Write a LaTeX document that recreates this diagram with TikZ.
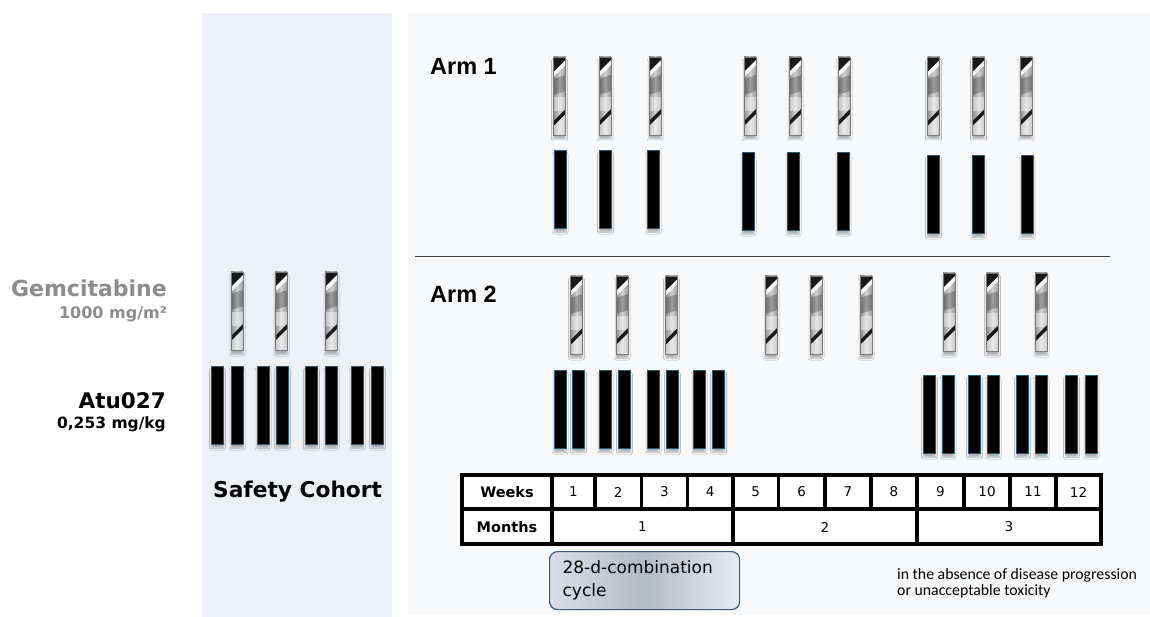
\documentclass[tikz,border=0pt]{standalone}
\usepackage{fontspec}
\setmainfont{DejaVu Sans}
\newfontfamily\armfont{Liberation Sans}
\newfontfamily\notefont{Carlito}
\usetikzlibrary{shadows.blur}

\definecolor{cohortbg}{HTML}{EDF1F5}
\definecolor{armbg}{HTML}{F8F9FB}
\definecolor{atuedge}{HTML}{2B5A70}
\definecolor{gemedge}{HTML}{7A7A7A}
\definecolor{labelgrey}{HTML}{8C8C8C}
\definecolor{cycleedge}{HTML}{3D5A78}
\definecolor{cycleside}{HTML}{DADDE4}
\definecolor{cyclemid}{HTML}{B6BAC6}
\definecolor{cycleright}{HTML}{E8EAEE}

\tikzset{
  barshadow/.style={blur shadow={shadow xshift=0pt, shadow yshift=-4pt,
      shadow opacity=30, shadow blur radius=2pt}},
  % striped metallic bar: Gemcitabine infusion
  gem/.pic={
    \path[barshadow] (-6,0) rectangle (6,78);
    \begin{scope}
      \clip (-6,0) rectangle (6,78);
      \shade[left color=gray!90, right color=gray!80, middle color=gray!35]
        (-6,0) rectangle (6,78);
      \fill[black,opacity=.25] (-6,22) -- (6,18) -- (6,34) -- (-6,38) -- cycle;
      \fill[white,opacity=.45] (-6,40) rectangle (6,54);
      \fill[black!90] (-6,0) -- (6,0) -- (6,3) -- (-6,15) -- cycle;
      \fill[white,opacity=.9] (6,3) -- (6,8) -- (-6,20) -- (-6,15) -- cycle;
      \fill[black!90] (6,52) -- (6,57) -- (-6,69) -- (-6,64) -- cycle;
      \fill[white,opacity=.5] (6,57) -- (6,78) -- (-6,78) -- (-6,69) -- cycle;
    \end{scope}
    \draw[gemedge, line width=0.9pt] (-6,0) rectangle (6,78);
  },
  % solid black bar: Atu027 infusion
  atu/.pic={
    \path[barshadow] (-6,0) rectangle (6,78);
    \filldraw[fill=black, draw=atuedge, line width=0.9pt] (-6,0) rectangle (6,78);
  },
  txt/.style={inner sep=0pt},
  drugname/.style={txt, anchor=base east, font=\bfseries\fontsize{22}{26}\selectfont},
  dose/.style={txt, anchor=base east, font=\bfseries\fontsize{15.5}{18}\selectfont},
  armlabel/.style={txt, anchor=base west, font=\armfont\bfseries\fontsize{23.5}{28}\selectfont},
  gridline/.style={line width=3.5pt, draw=black},
  headcell/.style={font=\bfseries\fontsize{14.5}{17}\selectfont},
  numcell/.style={font=\fontsize{13.5}{16}\selectfont},
  note/.style={txt, anchor=base west, font=\notefont\fontsize{15.8}{14}\selectfont},
}

\begin{document}
\begin{tikzpicture}[x=1pt,y=-1pt]
  \useasboundingbox (0,0) rectangle (1150,617);
  \fill[white] (0,0) rectangle (1150,617);

  % panels
  \fill[cohortbg] (202,13) rectangle (392,617);
  \fill[armbg] (408,13) rectangle (1150,615);

  % drug labels
  \node[drugname, text=labelgrey] (gemname) at (167,297) {Gemcitabine};
  \node[dose, text=labelgrey, font=\bfseries\fontsize{16}{18}\selectfont] (gemdose) at (167,318) {1000 mg/m²};
  \node[drugname, font=\bfseries\fontsize{21.5}{26}\selectfont] (atuname) at (166,408) {Atu027};
  \node[dose] (atudose) at (166,428) {0,253 mg/kg};

  % safety cohort
  \foreach \x [count=\i] in {237,281,331}
    \pic (sg\i) at (\x,272) {gem};
  \foreach \x [count=\i] in {217.5,237,263,282.5,311.5,331,357,377.5}
    \pic (sa\i) at (\x,366) {atu};
  \node[txt, anchor=base west, font=\bfseries\fontsize{21.7}{24}\selectfont] (cohort) at (213,497) {Safety Cohort};

  % arm 1
  \node[armlabel] (arm1) at (430,75) {Arm 1};
  \foreach \x [count=\i] in {559.5,605,655,750,795,844,933.5,978.5,1026}
    \pic (ag\i) at (\x,57) {gem};
  \foreach \x [count=\i] in {560,605.5,653}
    \pic (aa\i) at (\x,150) {atu};
  \foreach \x [count=\i] in {748,793,843}
    \pic (ab\i) at (\x,152) {atu};
  \foreach \x [count=\i] in {933.5,978,1027}
    \pic (ac\i) at (\x,155) {atu};

  % separator between arms
  \draw[line width=1pt, black!75] (415,257) -- (1110,257);

  % arm 2
  \node[armlabel] (arm2) at (430,302) {Arm 2};
  \foreach \x [count=\i] in {576.5,622,671.5,771,816,866}
    \pic (bg\i) at (\x,276) {gem};
  \foreach \x [count=\i] in {949,992.5,1041}
    \pic (cg\i) at (\x,273) {gem};
  \foreach \x [count=\i] in {560,578.5,605,624.5,653,672.5,699,718.5}
    \pic (ba\i) at (\x,370) {atu};
  \foreach \x [count=\i] in {929.5,948,974.5,993,1022.5,1041,1071.5,1091}
    \pic (ca\i) at (\x,375) {atu};

  % schedule table
  \filldraw[gridline, fill=white] (462,475) rectangle (1101,544);
  \draw[gridline] (462,509) -- (1101,509);
  \foreach \x in {552,733,917}
    \draw[gridline] (\x,475) -- (\x,544);
  \foreach \x in {595,641.5,687.5,778.5,825,871,964,1010,1056}
    \draw[gridline] (\x,475) -- (\x,509);

  \node[headcell] (weeks) at (507,492) {Weeks};
  \node[headcell] (months) at (507,527) {Months};
  \foreach \l/\r [count=\i] in {552/595,595/641.5,641.5/687.5,687.5/733,733/778.5,778.5/825,825/871,871/917,917/964,964/1010,1010/1056,1056/1101}
    \node[numcell] (w\i) at ({(\l+\r)/2},492) {\i};
  \foreach \l/\r [count=\i] in {552/733,733/917,917/1101}
    \node[numcell] (m\i) at ({(\l+\r)/2},527) {\i};

  % cycle legend
  \node[draw=cycleedge, line width=1.2pt, rounded corners=8pt,
        left color=cycleside, right color=cycleright, middle color=cyclemid,
        minimum width=188pt, minimum height=58pt, anchor=north west,
        text width=164pt, align=left, inner xsep=13pt,
        font=\fontsize{17}{23}\selectfont, text=black]
        (cycle) at (549,551) {28-d-combination\\cycle};

  % footnote
  \node[note] (note1) at (897,579) {in the absence of disease progression};
  \node[note] (note2) at (897,595) {or unacceptable toxicity};
\end{tikzpicture}
\end{document}
